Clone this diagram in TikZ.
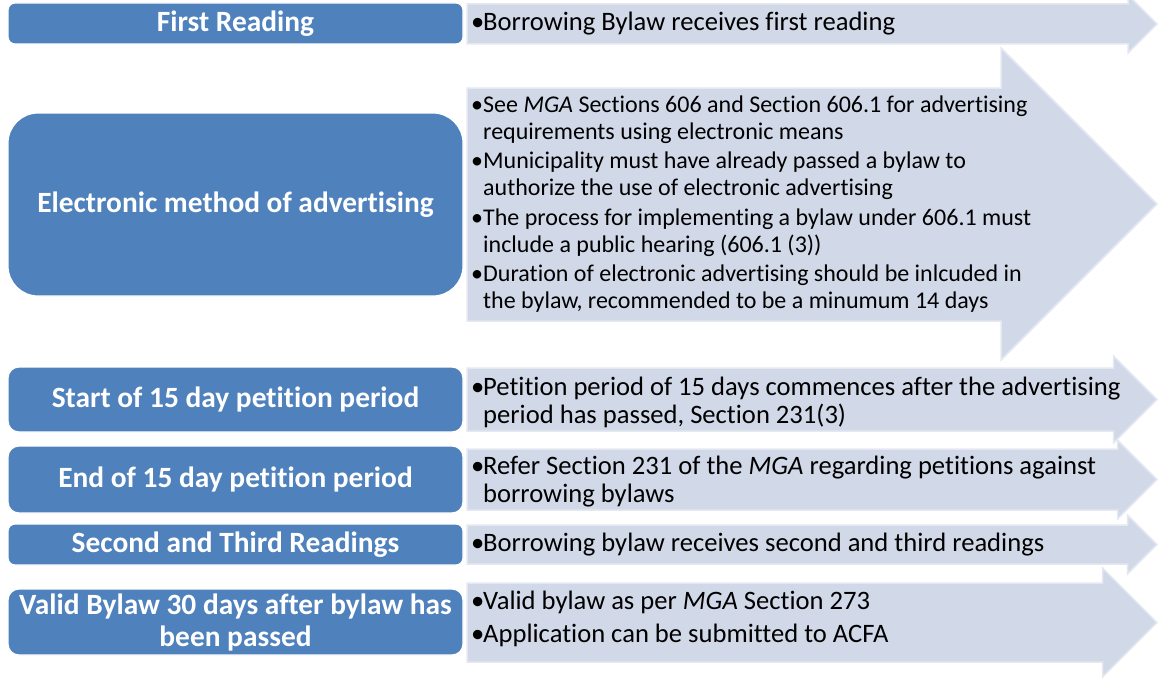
\documentclass[tikz,border=0pt]{standalone}
\usepackage{fontspec}
\setmainfont{Carlito}[Ligatures=NoCommon]
\definecolor{boxblue}{HTML}{4F81BD}
\definecolor{arrfill}{HTML}{D1D8E8}
\definecolor{arredge}{HTML}{E4E8F1}
\newcommand\bl{\makebox[13pt][l]{\hspace{1pt}•}}
\tikzset{
  stagebox/.style={fill=boxblue, draw=white, line width=1.2pt, text=white,
    font=\fontsize{29.4}{32}\selectfont\bfseries, align=center, inner sep=0pt,
    minimum width=455pt},
  arrowbody/.style={fill=arrfill, draw=arredge, line width=1.5pt, line join=miter},
  notetext/.style={anchor=base west, inner sep=0pt,
    font=\fontsize{26.6}{28.5}\selectfont, text=black},
  notesmall/.style={notetext, font=\fontsize{24}{27}\selectfont}
}
\begin{document}
\begin{tikzpicture}[x=1pt,y=-1pt]
\useasboundingbox (0,0) rectangle (1158,677);
% arrows
\draw[arrowbody] (467,4) -- (1128,4) -- (1128,-5) -- (1157,24) -- (1128,53) -- (1128,44) -- (467,44) -- cycle;
\draw[arrowbody] (467,88) -- (1001,88) -- (1001,48) -- (1157,204) -- (1001,360) -- (1001,321) -- (467,321) -- cycle;
\draw[arrowbody] (467,368) -- (1113.5,368) -- (1113.5,356) -- (1157,399.5) -- (1113.5,443) -- (1113.5,431) -- (467,431) -- cycle;
\draw[arrowbody] (467,449) -- (1117.5,449) -- (1117.5,440) -- (1157,479.5) -- (1117.5,519) -- (1117.5,510) -- (467,510) -- cycle;
\draw[arrowbody] (467,525) -- (1127.5,525) -- (1127.5,515) -- (1157,544.5) -- (1127.5,574) -- (1127.5,564) -- (467,564) -- cycle;
\draw[arrowbody] (467,583) -- (1102.5,583) -- (1102.5,568) -- (1157,622.5) -- (1102.5,677) -- (1102.5,662) -- (467,662) -- cycle;
% stage boxes
\node[stagebox, minimum height=41pt, rounded corners=7pt] (s1) at (235.5,23.5) {First Reading};
\node[stagebox, minimum height=183pt, rounded corners=30pt] (s2) at (235.5,204.5) {Electronic method of advertising};
\node[stagebox, minimum height=65pt, rounded corners=11pt] (s3) at (235.5,399.5) {Start of 15 day petition period};
\node[stagebox, minimum height=67pt, rounded corners=11pt] (s4) at (235.5,479.5) {End of 15 day petition period};
\node[stagebox, minimum height=41pt, rounded corners=7pt] (s5) at (235.5,544.5) {Second and Third Readings};
\node[stagebox, minimum height=66pt, rounded corners=11pt] (s6) at (235.5,622) {Valid Bylaw 30 days after bylaw has\\been passed};
% notes
\node[notetext] (n1) at (470,31) {\bl Borrowing Bylaw receives first reading};
\node[notesmall] (n2) at (470,112) {\begin{tabular}[t]{@{}l@{}l@{}}
\bl & See \textit{MGA} Sections 606 and Section 606.1 for advertising\\
    & requirements using electronic means\\[2.5pt]
\bl & Municipality must have already passed a bylaw to\\
    & authorize the use of electronic advertising\\[2.5pt]
\bl & The process for implementing a bylaw under 606.1 must\\
    & include a public hearing (606.1 (3))\\[2.5pt]
\bl & Duration of electronic advertising should be inlcuded in\\
    & the bylaw, recommended to be a minumum 14 days
\end{tabular}};
\node[notetext] (n3) at (470,395) {\begin{tabular}[t]{@{}l@{}l@{}}
\bl & Petition period of 15 days commences after the advertising\\
    & period has passed, Section 231(3)
\end{tabular}};
\node[notetext] (n4) at (470,474) {\begin{tabular}[t]{@{}l@{}l@{}}
\bl & Refer Section 231 of the \textit{MGA} regarding petitions against\\
    & borrowing bylaws
\end{tabular}};
\node[notetext] (n5) at (470,551) {\bl Borrowing bylaw receives second and third readings};
\node[notetext] (n6) at (470,609) {\begin{tabular}[t]{@{}l@{}l@{}}
\bl & Valid bylaw as per \textit{MGA} Section 273\\[4.5pt]
\bl & Application can be submitted to ACFA
\end{tabular}};
\end{tikzpicture}
\end{document}
